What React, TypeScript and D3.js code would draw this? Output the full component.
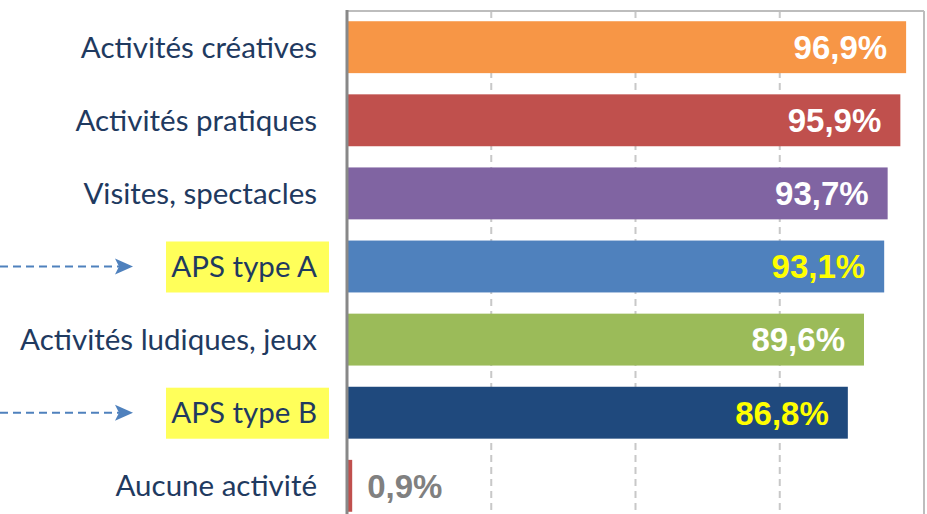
import React from 'react';
import * as d3 from 'd3';

const categories = [
  'Activités créatives',
  'Activités pratiques',
  'Visites, spectacles',
  'APS type A',
  'Activités ludiques, jeux',
  'APS type B',
  'Aucune activité',
];
const values = [96.9, 95.9, 93.7, 93.1, 89.6, 86.8, 0.9];
const barColors = ['#f79646', '#c0504d', '#8064a2', '#4f81bd', '#9bbb59', '#1f497d', '#c0504d'];
const highlighted = ['APS type A', 'APS type B'];
const gridTicks = [25, 50, 75];

const W = 927;
const H = 514;
const margin = { left: 347, right: 3, top: 11 };

const fmt = (v: number) => d3.format('.1f')(v).replace('.', ',') + '%';

export default function App() {
  const x = d3.scaleLinear().domain([0, 100]).range([margin.left, W - margin.right]);
  const y = d3
    .scaleBand<string>()
    .domain(categories)
    .range([margin.top, margin.top + 511])
    .paddingInner(0.29)
    .paddingOuter(0.14);
  const bw = y.bandwidth();

  return (
    <div style={{ position: 'absolute', left: 0, top: 0 }}>
      <svg width={W} height={H} style={{ display: 'block' }}>
        <rect width={W} height={H} fill="#fff" />

        {/* grid */}
        {gridTicks.map((t) => (
          <line
            key={t}
            x1={x(t)}
            x2={x(t)}
            y1={margin.top}
            y2={H}
            stroke="#c8c8c8"
            strokeWidth={2}
            strokeDasharray="7,5"
          />
        ))}
        {/* frame */}
        <line x1={x(0)} x2={x(100)} y1={margin.top} y2={margin.top} stroke="#bdbdbd" strokeWidth={2} />
        <line x1={x(100)} x2={x(100)} y1={margin.top} y2={H} stroke="#bdbdbd" strokeWidth={2} />

        {/* bars */}
        {categories.map((c, i) => {
          const y0 = y(c)!;
          const v = values[i];
          const inside = v > 10;
          const isHl = highlighted.includes(c);
          return (
            <g key={c}>
              <rect x={x(0)} y={y0} width={x(v) - x(0)} height={bw} fill={barColors[i]} />
              <text
                x={inside ? x(v) - 19 : x(v) + 15}
                y={y0 + bw / 2 + 11.8}
                textAnchor={inside ? 'end' : 'start'}
                fontFamily="'Liberation Sans', Arial, sans-serif"
                fontWeight="bold"
                fontSize={33}
                fill={!inside ? '#808080' : isHl ? '#ffff00' : '#ffffff'}
              >
                {fmt(v)}
              </text>
            </g>
          );
        })}

        {/* axis line */}
        <line x1={x(0)} x2={x(0)} y1={margin.top - 1} y2={H} stroke="#888" strokeWidth={3} />

        {/* category labels */}
        {categories.map((c) => {
          const cy = y(c)! + bw / 2;
          const isHl = highlighted.includes(c);
          return (
            <g key={c}>
              {isHl && (
                <>
                  <rect x={166} y={cy - 25} width={163} height={51} fill="#ffff5a" />
                  <line
                    x1={0}
                    x2={120}
                    y1={cy}
                    y2={cy}
                    stroke="#4f81bd"
                    strokeWidth={2}
                    strokeDasharray="8,5"
                  />
                  <path
                    d={`M133,${cy} L115,${cy - 8} L119,${cy} L115,${cy + 8} Z`}
                    fill="#4f81bd"
                  />
                </>
              )}
              <text
                x={317}
                y={cy + 10.5}
                textAnchor="end"
                fontFamily="Lato, 'Open Sans', sans-serif"
                fontSize={29.5}
                fill="#1f3a60"
              >
                {c}
              </text>
            </g>
          );
        })}
      </svg>
    </div>
  );
}
